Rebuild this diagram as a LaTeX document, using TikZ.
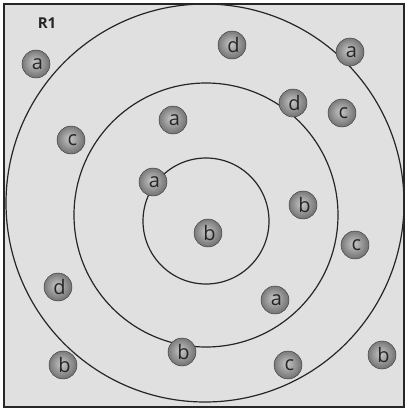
\documentclass[tikz,border=0pt]{standalone}
\usepackage{fontspec}
\setsansfont{Open Sans}
\pgfdeclareradialshading{sphereshade}{\pgfpoint{-3bp}{3bp}}{%
  color(0bp)=(black!22);
  color(10bp)=(black!35);
  color(28bp)=(black!58);
  color(40bp)=(black!80);
  color(50bp)=(black!92)}
\begin{document}
\begin{tikzpicture}[x=1pt,y=-1pt,
  ring/.style={draw=black!85,line width=1.2pt},
  sphere/.style={circle,minimum size=28pt,inner sep=0pt,shading=sphereshade,
    draw=black!80,line width=0.4pt,
    font=\sffamily\fontsize{20}{20}\selectfont,text=black!85},
  tag/.style={font=\sffamily\bfseries\fontsize{15}{15}\selectfont,text=black!85}]
\useasboundingbox (0,0) rectangle (406,410);
\fill[white] (0,0) rectangle (406,410);
\draw[fill=black!12,draw=black!85,line width=1.6pt] (4,4) rectangle (404,407);
\node[tag] (r1) at (47,23) {R1};
% rings
\draw[ring] (205,203) circle[radius=199];
\draw[ring] (206,215) circle[radius=132];
\draw[ring] (206,221) circle[radius=63];
% spheres
\node[sphere] (s1) at (36,64) {\hspace{3pt}a};
\node[sphere] (s2) at (232,45) {\hspace{3pt}d};
\node[sphere] (s3) at (350,52) {\hspace{3pt}a};
\node[sphere] (s4) at (71,140) {\hspace{3pt}c};
\node[sphere] (s5) at (173,120) {\hspace{3pt}a};
\node[sphere] (s6) at (293,103) {\hspace{3pt}d};
\node[sphere] (s7) at (342,113) {\hspace{3pt}c};
\node[sphere] (s8) at (153,182) {\hspace{3pt}a};
\node[sphere] (s9) at (303,205) {\hspace{3pt}b};
\node[sphere] (s10) at (208,233) {\hspace{3pt}b};
\node[sphere] (s11) at (355,245) {\hspace{3pt}c};
\node[sphere] (s12) at (58,287) {\hspace{3pt}d};
\node[sphere] (s13) at (275,300) {\hspace{3pt}a};
\node[sphere] (s14) at (182,352) {\hspace{3pt}b};
\node[sphere] (s15) at (288,365) {\hspace{3pt}c};
\node[sphere] (s16) at (63,365) {\hspace{3pt}b};
\node[sphere] (s17) at (382,355) {\hspace{3pt}b};
\end{tikzpicture}
\end{document}
